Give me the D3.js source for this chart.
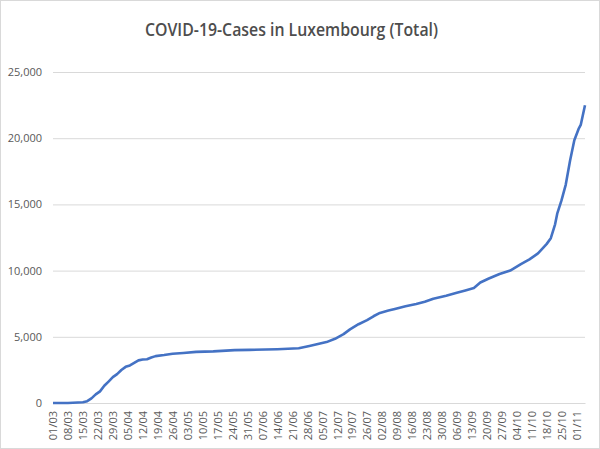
<!DOCTYPE html>
<html>
<head>
<meta charset="utf-8">
<script src="https://cdn.jsdelivr.net/npm/d3@7"></script>
<style>
  body { margin: 0; background: #fff; }
  text { font-family: "Open Sans", sans-serif; fill: #595959; }
</style>
</head>
<body>
<div class="vis"></div>
<script>
// readings (day/month, total cases)
const dates = [
  "01/03", "08/03", "15/03", "17/03", "19/03", "21/03", "23/03", "25/03", "27/03", "29/03",
  "31/03", "02/04", "04/04", "06/04", "08/04", "10/04", "12/04", "14/04", "16/04", "18/04",
  "22/04", "26/04", "01/05", "07/05", "15/05", "25/05", "01/06", "14/06", "24/06", "29/06",
  "03/07", "07/07", "11/07", "15/07", "18/07", "22/07", "26/07", "29/07", "01/08", "05/08",
  "08/08", "13/08", "18/08", "22/08", "26/08", "01/09", "06/09", "10/09", "14/09", "17/09",
  "21/09", "26/09", "01/10", "06/10", "10/10", "14/10", "18/10", "20/10", "22/10", "23/10",
  "25/10", "27/10", "29/10", "31/10", "02/11", "03/11", "05/11"
];
const cases = [
  0, 5, 60, 140, 350, 650, 880, 1300, 1620, 1950,
  2180, 2490, 2730, 2840, 3030, 3220, 3280, 3310, 3440, 3540,
  3620, 3720, 3780, 3860, 3900, 3990, 4010, 4060, 4130, 4300,
  4450, 4600, 4850, 5200, 5560, 5950, 6260, 6550, 6800, 6980,
  7100, 7300, 7470, 7650, 7880, 8100, 8320, 8500, 8680, 9100,
  9400, 9740, 10000, 10490, 10850, 11300, 12000, 12450, 13500, 14300,
  15300, 16500, 18300, 19850, 20700, 21000, 22490
];
const tickLabels = [
  "01/03", "08/03", "15/03", "22/03", "29/03", "05/04", "12/04", "19/04", "26/04",
  "03/05", "10/05", "17/05", "24/05", "31/05", "07/06", "14/06", "21/06", "28/06",
  "05/07", "12/07", "19/07", "26/07", "02/08", "09/08", "16/08", "23/08", "30/08",
  "06/09", "13/09", "20/09", "27/09", "04/10", "11/10", "18/10", "25/10", "01/11"
];
const yTicks = [0, 5000, 10000, 15000, 20000, 25000];

const W = 600, H = 449;
const margin = { top: 72, right: 15, bottom: 46, left: 53 };
const width = W - margin.left - margin.right;
const height = H - margin.top - margin.bottom;

const parse = d3.timeParse("%d/%m/%Y");
const toDate = (s) => parse(s + "/2020");

const data = dates.map((d, i) => ({ date: toDate(d), value: cases[i] }));

const root = d3.select(".vis").append("svg").attr("width", W).attr("height", H);

root.append("rect")
  .attr("x", 0.5).attr("y", 0.5)
  .attr("width", W - 1).attr("height", H - 1)
  .attr("fill", "#fff").attr("stroke", "#d9d9d9");

root.append("text")
  .attr("x", 145).attr("y", 36)
  .attr("textLength", 293)
  .attr("lengthAdjust", "spacingAndGlyphs")
  .style("font-size", "18px")
  .style("font-weight", "600")
  .style("fill", "#4d4d4d")
  .text("COVID-19-Cases in Luxembourg (Total)");

const svg = root.append("g")
  .attr("transform", "translate(" + margin.left + "," + margin.top + ")");

const x = d3.scaleTime()
  .domain([toDate("01/03"), toDate("05/11")])
  .range([0, width]);

const y = d3.scaleLinear().domain([0, 25000]).range([height, 0]);

// gridlines + y labels
const yAxis = svg.append("g")
  .call(d3.axisLeft(y).tickValues(yTicks).tickSize(-width).tickPadding(11)
    .tickFormat(d3.format(",")));
yAxis.select(".domain").remove();
yAxis.selectAll("line").attr("stroke", "#d9d9d9");
yAxis.selectAll("text").style("font-size", "11px").style("fill", "#595959");

// x axis
const xAxis = svg.append("g")
  .attr("transform", "translate(0," + height + ")")
  .call(d3.axisBottom(x).tickValues(tickLabels.map(toDate)).tickSize(0)
    .tickFormat(d3.timeFormat("%d/%m")));
xAxis.select(".domain").attr("stroke", "#d9d9d9");
xAxis.selectAll("text")
  .attr("transform", "rotate(-90)")
  .attr("text-anchor", "end")
  .attr("x", -8).attr("y", 0).attr("dy", "0.35em")
  .style("font-size", "11px").style("fill", "#595959");

svg.append("path")
  .datum(data)
  .attr("fill", "none")
  .attr("stroke", "#4472c4")
  .attr("stroke-width", 2.6)
  .attr("stroke-linejoin", "round")
  .attr("d", d3.line().x((d) => x(d.date)).y((d) => y(d.value)));
</script>
</body>
</html>
